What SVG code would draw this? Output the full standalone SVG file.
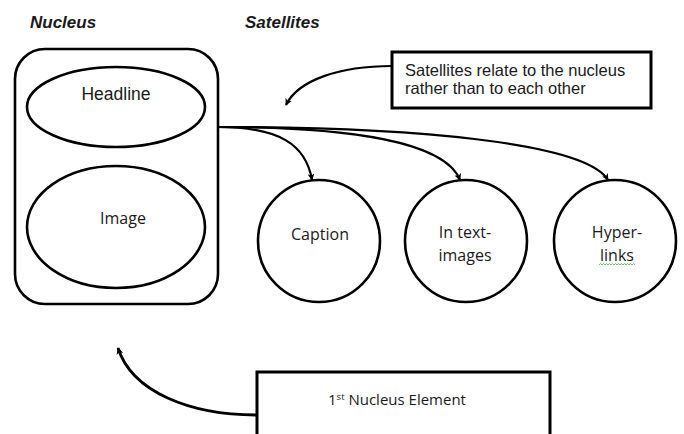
<svg xmlns="http://www.w3.org/2000/svg" width="684" height="434" viewBox="0 0 684 434">
<style>
.shape{fill:#fff;stroke:#000;stroke-width:2.6}
.conn{fill:none;stroke:#000;stroke-width:2.2}
.arial{font-family:"Liberation Sans",Arial,sans-serif;fill:#1a1a1a}
.cal{font-family:"Open Sans","Noto Sans",sans-serif;fill:#1a1a1a;font-size:16px}
.hdr{font-family:"Liberation Sans",Arial,sans-serif;font-weight:bold;font-style:italic;font-size:17px;fill:#1a1a1a}
</style>
<defs>
<marker id="arr" viewBox="0 0 10 10" refX="9" refY="5" markerWidth="7" markerHeight="7" orient="auto" markerUnits="userSpaceOnUse">
<path d="M0,0 L10,5 L0,10 L3,5 Z" fill="#000"/>
</marker>
</defs>
<rect width="684" height="434" fill="#fff"/>
<text class="hdr" x="30" y="28">Nucleus</text>
<text class="hdr" x="245" y="28">Satellites</text>
<g id="connectors">
<path class="conn" d="M218,127 C280,127 306,145 312,180" marker-end="url(#arr)"/>
<path class="conn" d="M218,127 C350,127 445,142 460,180" marker-end="url(#arr)"/>
<path class="conn" d="M218,127 C410,127 585,142 608,180" marker-end="url(#arr)"/>
<path class="conn" d="M392,66 C340,66 298,80 286,105" marker-end="url(#arr)"/>
<path class="conn" d="M257,415 C190,415 132,392 118,348" marker-end="url(#arr)" style="stroke-width:2.8"/>
</g>
<g id="nucleus">
<rect class="shape" x="15" y="49" width="203" height="255" rx="30" ry="30"/>
</g>
<g id="headline">
<ellipse class="shape" cx="116" cy="107" rx="89" ry="40"/>
<text class="arial" x="116" y="100" font-size="17.5" text-anchor="middle">Headline</text>
</g>
<g id="image">
<ellipse class="shape" cx="116" cy="227" rx="89" ry="61"/>
<text class="cal" x="123" y="224" text-anchor="middle">Image</text>
</g>
<g id="caption">
<circle class="shape" cx="319" cy="241" r="61"/>
<text class="cal" x="320" y="240" text-anchor="middle">Caption</text>
</g>
<g id="intext">
<circle class="shape" cx="466" cy="241" r="61"/>
<text class="cal" x="465" y="238" text-anchor="middle">In text-</text>
<text class="cal" x="465" y="261" text-anchor="middle">images</text>
</g>
<g id="hyperlinks">
<circle class="shape" cx="615" cy="241" r="61"/>
<text class="cal" x="617" y="238" text-anchor="middle">Hyper-</text>
<text class="cal" x="617" y="261" text-anchor="middle">links</text>
<path d="M599,265 l1.5,-1.5 l1.5,1.5 l1.5,-1.5 l1.5,1.5 l1.5,-1.5 l1.5,1.5 l1.5,-1.5 l1.5,1.5 l1.5,-1.5 l1.5,1.5 l1.5,-1.5 l1.5,1.5 l1.5,-1.5 l1.5,1.5 l1.5,-1.5 l1.5,1.5 l1.5,-1.5 l1.5,1.5 l1.5,-1.5 l1.5,1.5 l1.5,-1.5 l1.5,1.5 l1.5,-1.5 l1.5,1.5" fill="none" stroke="#5cb85c" stroke-width="0.9"/>
</g>
<g id="callout">
<rect x="392" y="52" width="259" height="56" fill="#fff" stroke="#000" stroke-width="3"/>
<text class="arial" x="405" y="76" font-size="16.5">Satellites relate to the nucleus</text>
<text class="arial" x="405" y="94" font-size="16.5">rather than to each other</text>
</g>
<g id="first-nucleus">
<rect x="257" y="372" width="293" height="70" fill="#fff" stroke="#000" stroke-width="3"/>
<text class="cal" x="397" y="405" text-anchor="middle" style="font-size:15px">1<tspan style="font-size:9.5px" dy="-5.5">st</tspan><tspan dy="5.5"> Nucleus Element</tspan></text>
</g>
</svg>
